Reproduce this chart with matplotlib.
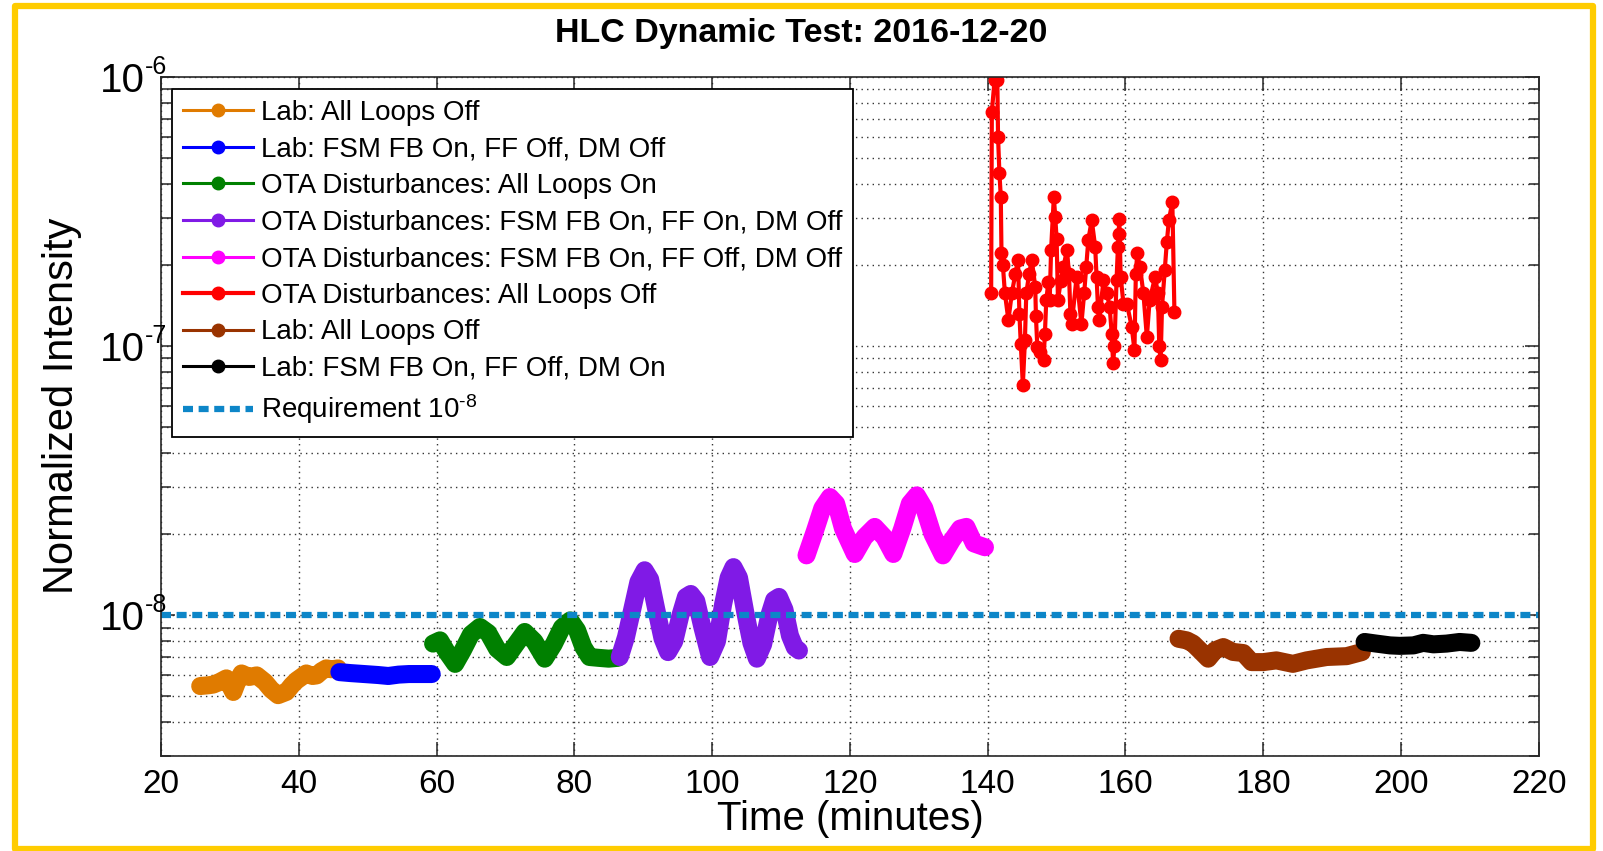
import matplotlib
matplotlib.use("Agg")
import matplotlib.pyplot as plt
import numpy as np
from matplotlib.patches import Rectangle
from matplotlib.ticker import LogLocator, FixedLocator, FuncFormatter, NullFormatter, MultipleLocator

plt.rcParams['font.family'] = ['Liberation Sans', 'DejaVu Sans']
plt.rcParams['mathtext.fontset'] = 'custom'
plt.rcParams['mathtext.rm'] = 'Liberation Sans'
plt.rcParams['mathtext.default'] = 'regular'
plt.rcParams['axes.unicode_minus'] = False

# time in minutes, intensity values
lab_off_t = [25.7, 27.0, 27.6, 28.5, 29.5, 30.5, 31.0, 31.7, 32.8, 33.9, 35.1, 36.0, 37.0, 38.2,
             39.0, 39.7, 40.4, 41.1, 42.0, 42.6, 43.3, 44.0, 44.8, 45.7]
lab_off_v = [5.46, 5.5, 5.53, 5.65, 5.83, 5.19, 5.6, 6.08, 5.9, 5.98, 5.65, 5.3, 5.05, 5.19,
             5.5, 5.73, 5.9, 6.08, 5.95, 5.98, 6.2, 6.35, 6.3, 6.35]  # x1e-9

lab_fsm_t = [45.9, 47.5, 49.5, 51.5, 53.0, 54.5, 56.0, 57.5, 59.3]
lab_fsm_v = [6.15, 6.1, 6.05, 6.0, 5.95, 6.02, 6.05, 6.05, 6.05]  # x1e-9

ota_on_t = [59.5, 60.5, 61.5, 62.7, 63.8, 65.0, 66.3, 67.5, 68.8, 70.2, 71.5, 72.8, 74.2, 75.7,
            77.0, 78.2, 79.4, 80.4, 81.3, 82.2, 83.5, 85.0, 86.3]
ota_on_v = [7.85, 8.07, 7.3, 6.6, 7.4, 8.5, 9.05, 8.6, 7.5, 7.0, 7.8, 8.67, 8.0, 6.9,
            7.8, 9.0, 9.57, 8.8, 7.62, 7.0, 6.95, 6.9, 6.95]  # x1e-9

ota_ffon_t = [86.6, 87.5, 88.4, 89.3, 90.2, 91.0, 91.9, 92.8, 93.6, 94.5, 95.4, 96.2, 96.9,
              97.7, 98.6, 99.7, 100.7, 101.6, 102.4, 103.1, 103.9, 104.8, 105.7, 106.5,
              107.4, 108.3, 109.0, 109.7, 110.5, 111.3, 112.0, 112.6]
ota_ffon_v = [7.0, 8.3, 10.5, 13.3, 14.7, 13.6, 10.5, 8.2, 7.3, 8.0, 10.0, 11.7, 12.0,
              11.3, 9.0, 7.0, 8.0, 11.0, 13.8, 15.1, 13.8, 10.3, 7.9, 6.9,
              7.8, 10.0, 11.4, 11.7, 10.5, 8.4, 7.6, 7.4]  # x1e-9

ota_ffoff_t = [113.7, 114.9, 116.0, 117.1, 118.0, 119.0, 120.7, 122.1, 123.6, 125.0, 126.3,
               127.6, 128.7, 129.7, 130.8, 132.0, 133.5, 134.8, 136.0, 136.9, 138.0, 139.6]
ota_ffoff_v = [1.67, 2.05, 2.5, 2.75, 2.6, 2.1, 1.69, 1.95, 2.13, 1.95, 1.69,
               2.1, 2.6, 2.79, 2.5, 2.0, 1.67, 1.9, 2.1, 2.13, 1.85, 1.79]  # x1e-8

ota_off_t = [140.5, 140.6, 141.0, 141.4, 141.5, 141.7, 141.9, 142.0, 142.2, 142.5, 143.0, 143.5,
             144.0, 144.4, 144.6, 144.8, 145.1, 145.4, 145.6, 146.0, 146.4, 146.9, 147.0, 147.2,
             147.6, 148.1, 148.3, 148.5, 148.8, 149.0, 149.2, 149.6, 149.8, 150.0, 150.2, 150.6,
             151.0, 151.5, 151.8, 152.0, 152.2, 152.9, 153.6, 154.0, 154.3, 154.6, 155.1, 155.6,
             155.8, 156.0, 156.2, 156.8, 157.3, 157.7, 158.0, 158.2, 158.4, 158.7, 158.9, 159.0,
             159.1, 159.3, 159.7, 160.2, 160.9, 161.3, 161.5, 161.7, 162.1, 162.6, 163.1, 163.5,
             164.3, 164.7, 164.9, 165.1, 165.3, 165.7, 166.0, 166.3, 166.8, 167.1]
ota_off_v = [1.57, 7.43, 9.75, 9.75, 6.0, 4.39, 3.59, 2.21, 2.0, 1.57, 1.25, 1.57,
             1.85, 2.09, 1.32, 1.02, 0.716, 1.05, 1.57, 1.85, 2.09, 1.66, 1.29, 0.993,
             0.95, 0.886, 1.11, 1.48, 1.73, 1.48, 2.28, 3.59, 3.03, 2.51, 1.48, 1.75,
             1.97, 2.28, 1.86, 1.32, 1.21, 1.81, 1.21, 1.57, 1.97, 2.48, 2.94, 2.34,
             1.81, 1.40, 1.25, 1.76, 1.57, 1.40, 1.11, 0.863, 1.0, 1.76, 2.34, 2.62,
             2.98, 1.81, 1.44, 1.44, 1.18, 0.966, 1.86, 2.21, 1.97, 1.57, 1.08, 1.48,
             1.81, 1.57, 1.0, 0.886, 1.40, 1.92, 2.44, 2.94, 3.44, 1.34]  # x1e-7

lab_off2_t = [167.7, 168.9, 169.8, 170.8, 172.0, 173.0, 174.2, 175.6, 177.1, 178.3, 180.0,
              181.9, 184.3, 186.3, 189.2, 192.1, 194.3]
lab_off2_v = [8.18, 8.07, 7.85, 7.41, 6.9, 7.41, 7.62, 7.31, 7.24, 6.7, 6.7,
              6.8, 6.6, 6.8, 7.0, 7.05, 7.3]  # x1e-9

lab_dm_t = [194.7, 196.4, 198.4, 199.8, 201.8, 203.2, 204.7, 206.6, 208.5, 210.2]
lab_dm_v = [7.96, 7.85, 7.73, 7.7, 7.73, 7.9, 7.8, 7.85, 7.96, 7.9]  # x1e-9

requirement = 1e-8
y_ticks = [1e-8, 1e-7, 1e-6]

series = [
    ("Lab: All Loops Off", lab_off_t, np.array(lab_off_v) * 1e-9, '#E07B00', True),
    ("Lab: FSM FB On, FF Off, DM Off", lab_fsm_t, np.array(lab_fsm_v) * 1e-9, '#0000FF', True),
    ("OTA Disturbances: All Loops On", ota_on_t, np.array(ota_on_v) * 1e-9, '#008000', True),
    ("OTA Disturbances: FSM FB On, FF On, DM Off", ota_ffon_t, np.array(ota_ffon_v) * 1e-9, '#801AE6', True),
    ("OTA Disturbances: FSM FB On, FF Off, DM Off", ota_ffoff_t, np.array(ota_ffoff_v) * 1e-8, '#FF00FF', True),
    ("OTA Disturbances: All Loops Off", ota_off_t, np.array(ota_off_v) * 1e-7, '#FF0000', False),
    ("Lab: All Loops Off", lab_off2_t, np.array(lab_off2_v) * 1e-9, '#993300', True),
    ("Lab: FSM FB On, FF Off, DM On", lab_dm_t, np.array(lab_dm_v) * 1e-9, '#000000', True),
]


def paint(out_name: str):
    fig = plt.figure(figsize=(16.03, 8.51), dpi=100)
    ax = fig.add_axes([0.1004, 0.1116, 0.8596, 0.7979])

    for label, t, v, color, dense in series:
        if dense:
            # dense data: overlapping markers look like a thick band
            ax.plot(t, v, '-', color=color, lw=13, solid_capstyle='round', solid_joinstyle='round')
            ax.plot(t, v, '-o', color=color, lw=2.2, ms=9, label=label)
        else:
            ax.plot(t, v, '-o', color=color, lw=3, ms=9, label=label)
    ax.axhline(requirement, color='#0D86C8', lw=4.5, dashes=(1.6, 0.9), label=r'Requirement $10^{\text{-}8}$')

    ax.set_yscale('log')
    ax.set_xlim(20, 220)
    ax.set_ylim(3e-9, 1e-6)
    ax.xaxis.set_major_locator(MultipleLocator(20))
    ax.yaxis.set_major_locator(FixedLocator(y_ticks))
    # base "10" as the tick label, the exponent is put on as a small superscript below
    ax.yaxis.set_major_formatter(FuncFormatter(lambda y, pos: '10'))
    ax.yaxis.set_minor_locator(LogLocator(base=10, subs=np.arange(2, 10)))
    ax.yaxis.set_minor_formatter(NullFormatter())
    for val in y_ticks:
        ax.annotate('-%d' % -int(round(np.log10(val))), xy=(0, val), xycoords=('axes fraction', 'data'),
                    xytext=(-11.5, 2.5), textcoords='offset points', fontsize=18,
                    ha='left', va='baseline', annotation_clip=False)

    ax.grid(True, which='major', axis='both', color='#333333', lw=1.0, linestyle=(0, (1, 3)))
    ax.grid(True, which='minor', axis='y', color='#333333', lw=1.0, linestyle=(0, (1, 3)))
    ax.tick_params(which='both', direction='in', top=True, right=True, color='#262626')
    ax.tick_params(which='major', length=10, width=1.1)
    ax.tick_params(which='minor', length=7, width=1.1)
    ax.tick_params(axis='x', labelsize=24, pad=9)
    ax.tick_params(axis='y', labelsize=29, pad=11.5)
    for s in ax.spines.values():
        s.set_color('#262626')
        s.set_linewidth(1.2)

    ax.set_xlabel('Time (minutes)', fontsize=29)
    ax.xaxis.set_label_coords(0.5, -0.065)
    ax.xaxis.label.set_va('top')
    ax.set_ylabel('Normalized Intensity', fontsize=30)
    ax.yaxis.set_label_coords(-0.057, 0.516)

    fig.text(0.5, 1 - 41.7 / 851, 'HLC Dynamic Test: 2016-12-20', ha='center', va='baseline',
             fontsize=24.5, fontweight='bold')

    leg = ax.legend(loc='upper left', bbox_to_anchor=(172 / 1603, 1 - 89 / 851),
                    bbox_transform=fig.transFigure, borderaxespad=0, fontsize=20,
                    handlelength=2.5, handletextpad=0.3, labelspacing=0.38, borderpad=0.4,
                    fancybox=False, framealpha=1, edgecolor='black')
    leg.get_frame().set_linewidth(1.3)

    # yellow frame round the whole picture
    fig.patches.append(Rectangle((15 / 1603, 2.5 / 851), 1577.5 / 1603, 843 / 851,
                                 transform=fig.transFigure, fill=False, edgecolor='#FFCC00',
                                 lw=4.5, joinstyle='round'))
    plt.savefig(out_name, dpi=100)


if __name__ == '__main__':
    paint('out.png')
